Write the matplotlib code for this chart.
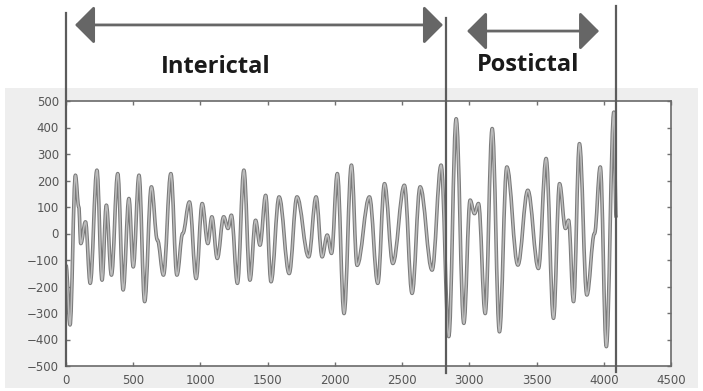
import matplotlib
matplotlib.use("Agg")
import matplotlib.pyplot as plt
import matplotlib.patheffects as pe
from matplotlib.patches import Rectangle, PathPatch
from matplotlib.path import Path
from matplotlib.transforms import blended_transform_factory

# ---- data ----
sig_x = [0, 30, 70, 95, 110, 145, 180, 230, 268, 300, 338, 385, 425, 468, 500,
         543, 585, 635, 680, 725, 780, 825, 868, 918, 968, 1013, 1055, 1085,
         1125, 1173, 1205, 1230, 1275, 1323, 1368, 1410, 1443, 1485, 1525, 1585,
         1660, 1718, 1805, 1860, 1905, 1943, 1975, 2018, 2068, 2123, 2165, 2257,
         2319, 2369, 2431, 2517, 2574, 2634, 2723, 2790, 2847, 2902, 2959, 3006,
         3038, 3068, 3118, 3170, 3224, 3279, 3361, 3435, 3514, 3571, 3626, 3671,
         3715, 3738, 3775, 3819, 3874, 3931, 3974, 4019, 4075, 4092]
sig_y = [-120, -345, 220, 100, -38, 44, -188, 239, -176, 107, -157, 226, -213,
         132, -126, 220, -257, 176, -25, -157, 226, -157, 0, 119, -170, 113, -38,
         63, -94, 63, 19, 69, -188, 239, -176, 50, -44, 144, -182, 138, -151, 138,
         -88, 138, -88, -6, -75, 226, -302, 258, -120, 138, -188, 188, -113, 182,
         -226, 176, -138, 258, -389, 433, -339, 126, 75, 113, -302, 396, -371, 251,
         -119, 163, -132, 283, -320, 188, 19, 50, -257, 339, -232, 0, 251, -427,
         458, 60]
boundaries = [0, 2826, 4091]
phase_labels = ["Interictal", "Postictal"]
x_ticks = list(range(0, 4501, 500))
y_ticks = list(range(-500, 501, 100))

W, H = 703, 391
fig = plt.figure(figsize=(W / 100, H / 100), dpi=100)
fig.patch.set_facecolor("white")

# gray panel behind the axes
fig.patches.append(Rectangle((5 / W, (H - 388) / H), (698 - 5) / W, (388 - 88) / H,
                             transform=fig.transFigure, facecolor="#eeeeee",
                             edgecolor="none", zorder=-5))

ax = fig.add_axes([66 / W, (H - 366) / H, (671 - 66) / W, (366 - 101) / H])
ax.set_zorder(1)
ax.set_facecolor("white")
ax.set_xlim(0, 4500)
ax.set_ylim(-500, 500)
ax.set_xticks(x_ticks)
ax.set_yticks(y_ticks)
ax.tick_params(direction="in", length=3, width=1, color="#707070",
               top=True, right=True, labelsize=8.5, labelcolor="#555555")
ax.tick_params(axis="y", pad=5)
ax.tick_params(axis="x", pad=6)
for s in ax.spines.values():
    s.set_color("#6a6a6a")
    s.set_linewidth(1.2)

# signal: smooth curve through the read extrema (cubic Bezier segments,
# horizontal tangent at each read point)
verts = [(sig_x[0], sig_y[0])]
codes = [Path.MOVETO]
for i in range(1, len(sig_x)):
    x0, y0 = sig_x[i - 1], sig_y[i - 1]
    x1, y1 = sig_x[i], sig_y[i]
    dx = x1 - x0
    verts += [(x0 + 0.38 * dx, y0), (x1 - 0.38 * dx, y1), (x1, y1)]
    codes += [Path.CURVE4] * 3
sig_path = Path(verts, codes)
ax.add_patch(PathPatch(sig_path, transform=ax.transData, fill=False,
                       edgecolor="#bcbcbc", lw=1.1, joinstyle="round",
                       path_effects=[pe.Stroke(linewidth=2.6, foreground="#7a7a7a"),
                                     pe.Normal()],
                       zorder=3))

# phase boundary lines extending above the axes
bt = blended_transform_factory(ax.transData, ax.transAxes)
tops = [1.332, 1.313, 1.358]
bots = [0.0, -0.026, -0.023]
for b, t, lo in zip(boundaries, tops, bots):
    ax.plot([b, b], [lo, t], transform=bt, color="#5c5c5c", lw=1.6,
            clip_on=False, zorder=5)

# arrows
arrow_spans = [(67, 2804, 1.287), (2983, 3965, 1.264)]
for x0, x1, yf in arrow_spans:
    ax.annotate("", xy=(x1, yf), xytext=(x0, yf), xycoords=bt, textcoords=bt,
                arrowprops=dict(arrowstyle="<|-|>,head_length=12,head_width=12",
                                mutation_scale=1, lw=2.0, color="#666666",
                                shrinkA=0, shrinkB=0),
                annotation_clip=False)

label_pos = [(216, 67), (528, 65)]
for txt, (px, py) in zip(phase_labels, label_pos):
    fig.text(px / W, 1 - py / H, txt, ha="center", va="center",
             fontfamily="Open Sans", fontweight="bold", fontsize=17,
             color="#1a1a1a")

fig.savefig("out.png", dpi=100)
